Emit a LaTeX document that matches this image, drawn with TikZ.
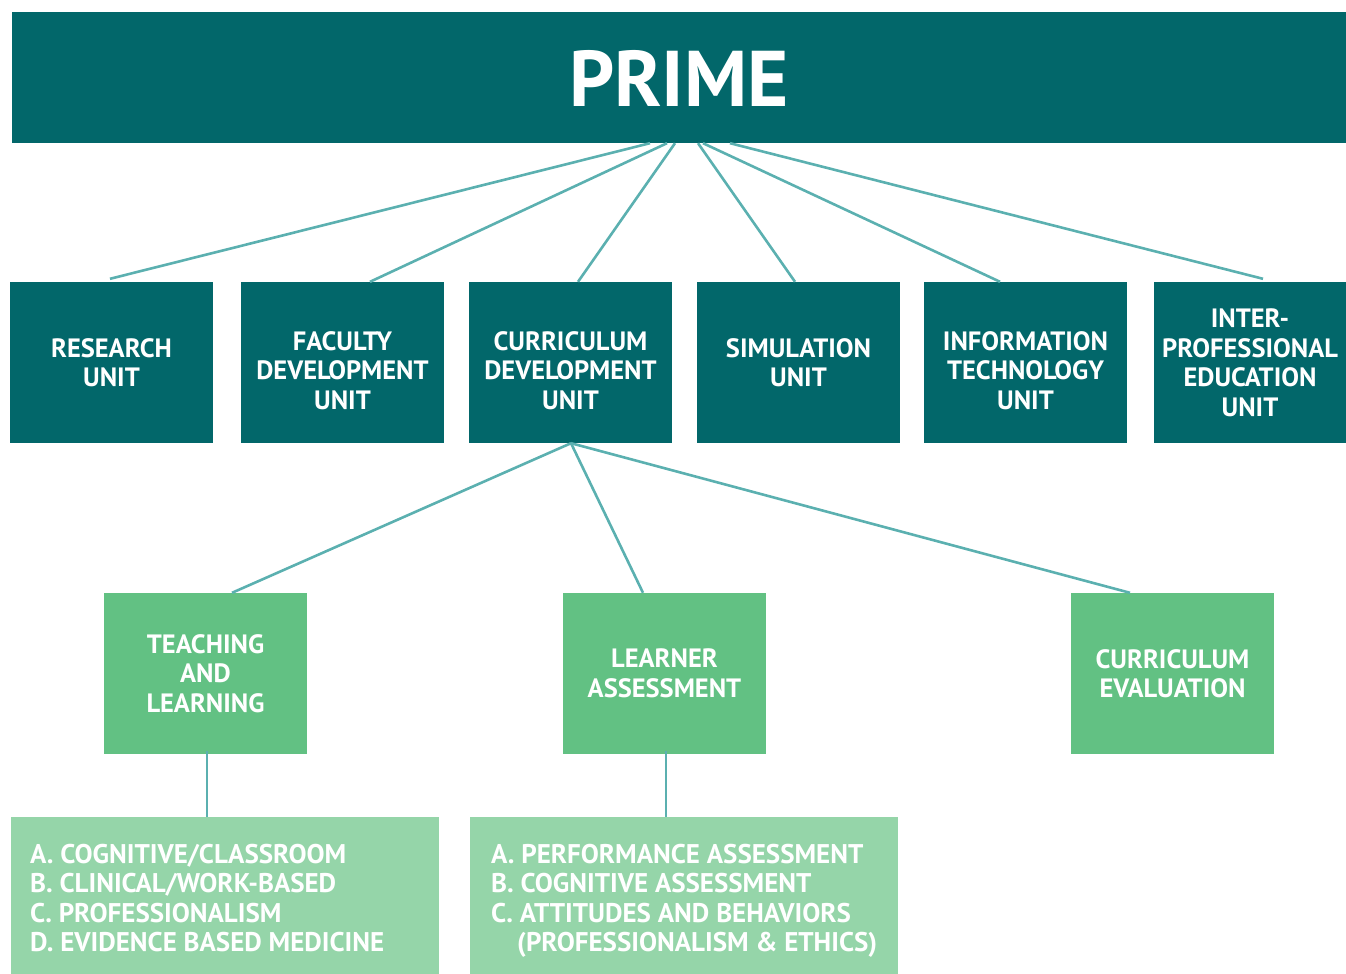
\documentclass[tikz,border=0pt]{standalone}
\usepackage{fontspec}
\setmainfont{PT Sans}
\definecolor{teal1}{HTML}{02676A}
\definecolor{green1}{HTML}{62C183}
\definecolor{green2}{HTML}{95D5A9}
\definecolor{linec}{HTML}{5BB0B0}
\begin{document}
\begin{tikzpicture}[x=1pt,y=-1pt,
  boxfont/.style={font=\fontsize{26.5}{29.5}\selectfont\bfseries},
  unitbox/.style={fill=teal1,text=white,inner sep=0pt,minimum width=203pt,minimum height=161pt,align=center,boxfont},
  lowtext/.style={text=white,inner sep=0pt,align=center,boxfont,yshift=-8pt},
  subbox/.style={fill=green1,text=white,inner sep=0pt,minimum width=203pt,minimum height=161pt,align=center,boxfont},
  listbox/.style={fill=green2,inner sep=0pt,minimum width=428pt,minimum height=157pt},
  listtext/.style={anchor=north west,text=white,inner sep=0pt,align=left,font=\fontsize{27}{29.5}\selectfont\bfseries},
  conn/.style={draw=linec,line width=2.6pt}]
\useasboundingbox (0,0) rectangle (1346,974);
\node[fill=teal1,inner sep=0pt,minimum width=1334pt,minimum height=131pt] (prime) at (679,77.5) {};
\node[text=white,inner sep=0pt,font=\fontsize{79}{80}\selectfont\bfseries] (primetext) at ([yshift=-1pt]prime.center) {PRIME};
\node[unitbox] (research) at (111.5,362.5) {RESEARCH\\UNIT};
\node[unitbox,label={[lowtext]center:{FACULTY\\DEVELOPMENT\\UNIT}}] (faculty) at (342.5,362.5) {};
\node[unitbox,label={[lowtext]center:{CURRICULUM\\DEVELOPMENT\\UNIT}}] (curric) at (570.5,362.5) {};
\node[unitbox] (sim) at (798.5,362.5) {SIMULATION\\UNIT};
\node[unitbox,label={[lowtext]center:{INFORMATION\\TECHNOLOGY\\UNIT}}] (it) at (1025.5,362.5) {};
\node[unitbox,minimum width=192pt] (inter) at (1250,362.5) {INTER-\\PROFESSIONAL\\EDUCATION\\UNIT};
\node[subbox] (teach) at (205.5,673.5) {TEACHING\\AND\\LEARNING};
\node[subbox] (learner) at (664.5,673.5) {LEARNER\\ASSESSMENT};
\node[subbox] (ceval) at (1172.5,673.5) {CURRICULUM\\EVALUATION};
\node[listbox] (list1) at (225,895.5) {};
\node[listbox] (list2) at (684,895.5) {};
\node[listtext] (list1text) at (30,844) {A. COGNITIVE/CLASSROOM\\B. CLINICAL/WORK-BASED\\C. PROFESSIONALISM\\D. EVIDENCE BASED MEDICINE};
\node[listtext] (list2text) at (491,844) {A. PERFORMANCE ASSESSMENT\\B. COGNITIVE ASSESSMENT\\C. ATTITUDES AND BEHAVIORS\\\hspace*{26pt}(PROFESSIONALISM \& ETHICS)};
% connectors from PRIME
\draw[conn] ([xshift=-29pt]prime.south) -- ([xshift=-1.5pt,yshift=3pt]research.north);
\draw[conn] ([xshift=-12pt]prime.south) -- ([xshift=27.5pt]faculty.north);
\draw[conn] ([xshift=-4pt]prime.south) -- ([xshift=7.5pt]curric.north);
\draw[conn] ([xshift=19pt]prime.south) -- ([xshift=-3.5pt]sim.north);
\draw[conn] ([xshift=24pt]prime.south) -- ([xshift=-25.5pt]it.north);
\draw[conn] ([xshift=51pt]prime.south) -- ([xshift=13pt,yshift=3pt]inter.north);
% from curriculum development
\coordinate (cdb) at ([xshift=0.5pt]curric.south);
\draw[conn] (cdb) -- ([xshift=26.5pt]teach.north);
\draw[conn] (cdb) -- ([xshift=-21.5pt]learner.north);
\draw[conn] (cdb) -- ([xshift=-42.5pt]ceval.north);
% vertical
\draw[conn] ([xshift=1.5pt,yshift=3pt]teach.south) -- ([xshift=-18pt]list1.north);
\draw[conn] ([xshift=1.5pt,yshift=3pt]learner.south) -- ([xshift=-18pt]list2.north);
\end{tikzpicture}
\end{document}
